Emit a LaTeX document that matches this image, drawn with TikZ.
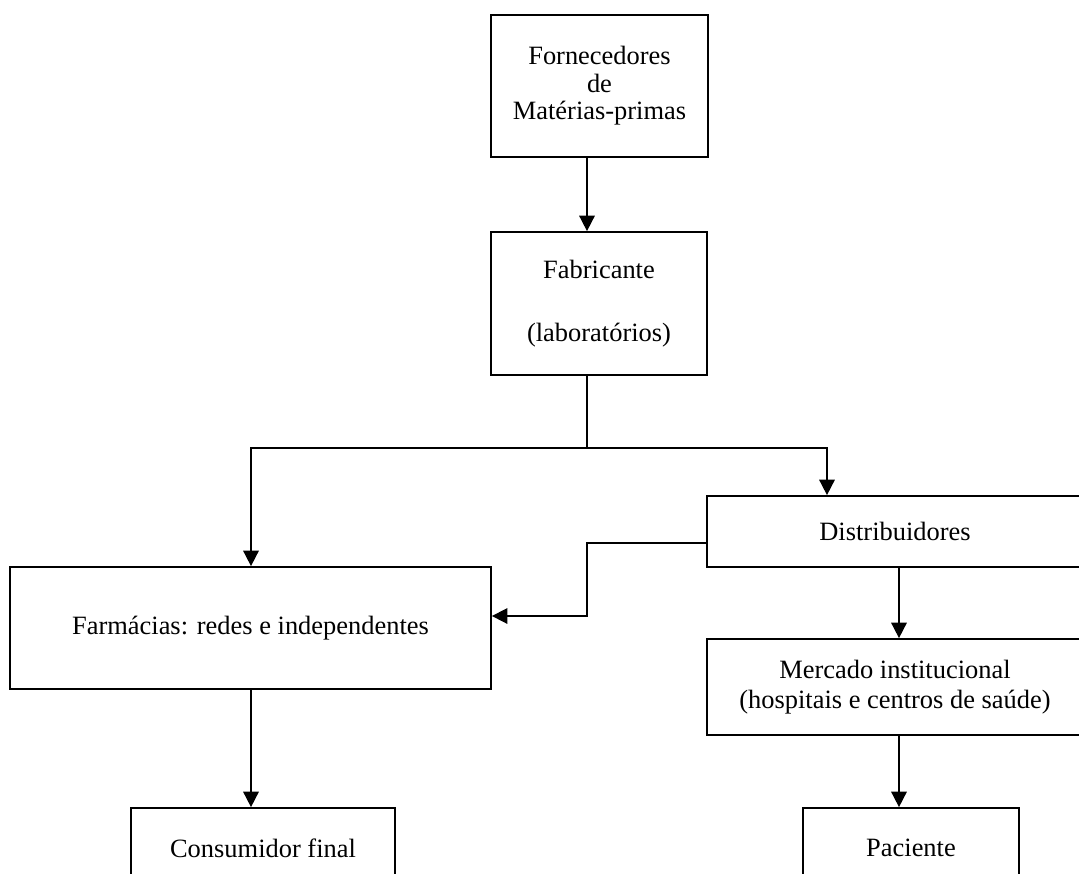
\documentclass[tikz,border=0pt]{standalone}
\usepackage{fontspec}
\setmainfont{Liberation Serif}
\usetikzlibrary{arrows.meta}

\begin{document}
\begin{tikzpicture}[x=0.025cm, y=-0.025cm,
		caixa/.style={draw, line width=1.2pt, align=center, inner sep=0pt,
			font=\fontsize{18.8}{19.6}\selectfont},
		seta/.style={line width=1.2pt, -{Triangle[length=11pt, width=11pt]}},
		liga/.style={line width=1.2pt}]
	\useasboundingbox (0,0) rectangle (1079,874);
	\clip (0,0) rectangle (1079,874);
	% Boxes
	\node[caixa, minimum width=5.425cm, minimum height=3.55cm] (forn) at (599.5,86)
		{Fornecedores\\de\\Matérias-primas};
	\node[caixa, minimum width=5.4cm, minimum height=3.575cm] (fab) at (599,303.5)
		{Fabricante\\[25pt](laboratórios)};
	\node[caixa, minimum width=12.025cm, minimum height=3.05cm] (farm) at (250.5,628)
		{Farmácias: redes e independentes};
	\node[caixa, minimum width=9.4cm, minimum height=1.775cm] (dist) at (895,531.5)
		{Distribuidores};
	\node[caixa, minimum width=9.4cm, minimum height=2.4cm] (merc) at (895,687)
		{Mercado institucional\\[2pt](hospitais e centros de saúde)};
	\node[caixa, minimum width=6.6cm, minimum height=2cm] (cons) at (263,848)
		{Consumidor final};
	\node[caixa, minimum width=5.4cm, minimum height=2cm] (pac) at (911,848)
		{Paciente};
	% Guide points for the connectors
	\coordinate (eixo) at (587,0);
	\coordinate (split) at (587,448);
	\coordinate (distin) at (827,0);
	\coordinate (dirx) at (899,0);
	\coordinate (esqx) at (251,0);
	\coordinate (volta1) at (587,543);
	\coordinate (volta2) at (587,616);
	% Connectors
	\draw[seta] (forn.south -| eixo) -- (fab.north -| eixo);
	\draw[liga] (fab.south -| eixo) -- (split);
	\draw[seta] (split) -| (farm.north -| esqx);
	\draw[seta] (split) -| (dist.north -| distin);
	\draw[seta] (dist.west |- volta1) -- (volta1) -- (volta2) -- (farm.east |- volta2);
	\draw[seta] (dist.south -| dirx) -- (merc.north -| dirx);
	\draw[seta] (merc.south -| dirx) -- (pac.north -| dirx);
	\draw[seta] (farm.south -| esqx) -- (cons.north -| esqx);
\end{tikzpicture}
\end{document}
